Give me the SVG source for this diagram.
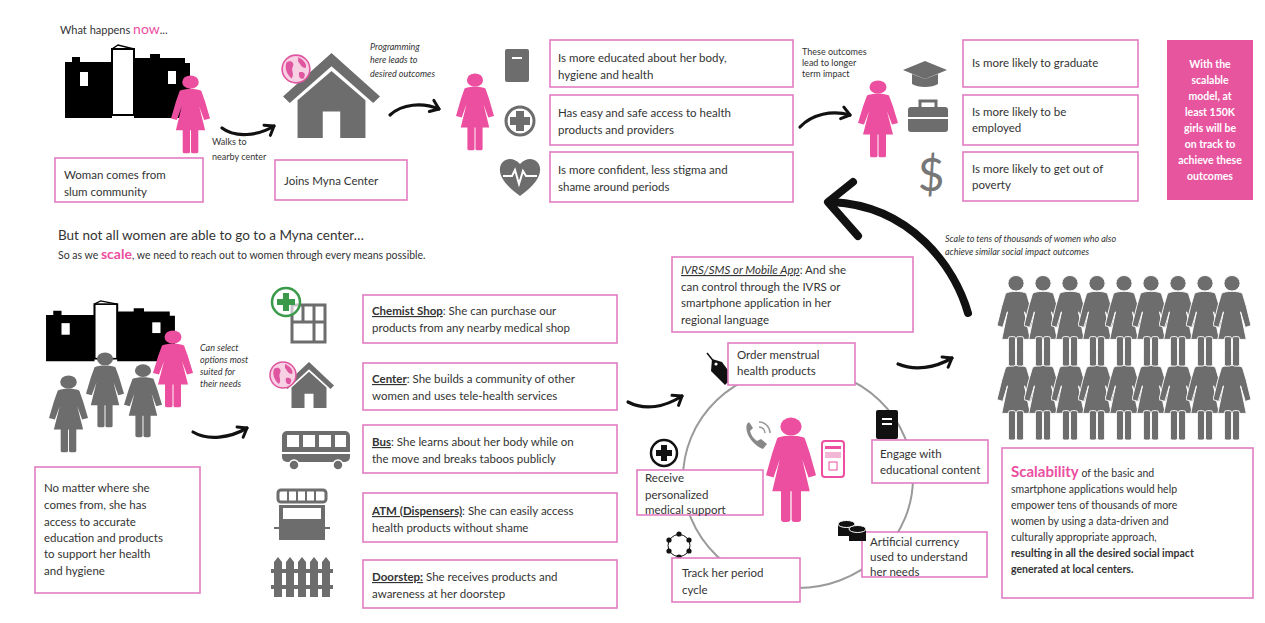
<svg xmlns="http://www.w3.org/2000/svg" width="1265" height="623" viewBox="0 0 1265 623">
<style>
text{font-family:Lato,"Liberation Sans",sans-serif;fill:#333}
.t{font-size:11.5px}
.s{font-size:9px}
.i{font-style:italic}
.box{fill:#fff;stroke:#e27cc2;stroke-width:1.6}
.pk{fill:#ec4f9f}
.gr{fill:#6d6d6d}
.arr{fill:none;stroke:#111;stroke-width:3.2;stroke-linecap:round;stroke-linejoin:round}
.u{text-decoration:underline;font-weight:bold}
.wt{fill:#fff;font-weight:bold;font-size:10.5px;text-anchor:middle}
</style>
<defs>
  <symbol id="woman" viewBox="0 0 40 100" preserveAspectRatio="none">
    <circle cx="20" cy="9" r="8.5"/>
    <path d="M9 20 C13 17 27 17 31 20 L35 34 L40 55 L34 57 L29 40 L35 70 L5 70 L11 40 L6 57 L0 55 L5 34 Z"/>
    <rect x="12" y="67" width="7.5" height="32" rx="2"/>
    <rect x="20.5" y="67" width="7.5" height="32" rx="2"/>
  </symbol>
  <symbol id="slum" viewBox="64 44 128 75" preserveAspectRatio="none">
    <path d="M65 62 H72 V57 H80 V62 H112 V118 H65 Z" fill="#000"/>
    <path d="M134 58 H150 V54 H160 V58 H185 V63 H190 V118 H134 Z" fill="#000"/>
    <rect x="112" y="49" width="22" height="66" fill="#fff" stroke="#000" stroke-width="2"/>
    <path d="M112 49 L118 45 L134 49" fill="none" stroke="#000" stroke-width="1.5"/>
    <rect x="80" y="72" width="8" height="14" fill="#fff"/>
    <rect x="168" y="71" width="8" height="13" fill="#fff"/>
  </symbol>
  <symbol id="house" viewBox="0 0 100 90" preserveAspectRatio="none">
    <polygon points="50,0 100,46 93,53 50,14 7,53 0,46"/>
    <path d="M15 50 L50 19 L85 50 V90 H59 V62 H41 V90 H15 Z"/>
  </symbol>
  <symbol id="globe" viewBox="0 0 30 30">
    <circle cx="15" cy="15" r="13" fill="#f7d0e4" stroke="#e0559f" stroke-width="1.5"/>
    <path d="M6 9 C10 6 14 9 12 13 C10 17 14 19 11 24 C7 21 4 15 6 9 Z" fill="#e0559f"/>
    <path d="M17 4 C22 6 26 11 24 14 C20 14 19 10 17 8 Z" fill="#e0559f"/>
    <path d="M18 18 C22 17 25 19 22 24 C19 25 17 22 18 18 Z" fill="#e0559f"/>
  </symbol>
  <marker id="hd" viewBox="-10 -8 12 16" markerWidth="12" markerHeight="16" refX="0" refY="0" orient="auto" markerUnits="userSpaceOnUse">
    <path d="M-8 -6 L0 0 L-8 6" fill="none" stroke="#111" stroke-width="3" stroke-linecap="round" stroke-linejoin="round"/>
  </marker>
</defs>

<rect width="1265" height="623" fill="#fff"/>

<!-- ===== current journey ===== -->
<g id="intro">
  <text x="60" y="34" style="font-size:11px">What happens <tspan style="fill:#ec4f9f;font-size:14px">now</tspan>...</text>
</g>

<g id="slum-woman">
  <use href="#slum" x="64" y="44" width="128" height="75"/>
  <use href="#woman" class="pk" x="171" y="75" width="39" height="79"/>
  <rect class="box" x="55" y="158" width="148" height="44"/>
  <text class="t" x="64" y="179">Woman comes from</text>
  <text class="t" x="64" y="196">slum community</text>
</g>

<g id="walk-label">
  <text class="s" x="212" y="145">Walks to</text>
  <text class="s" x="212" y="160">nearby center</text>
</g>

<g id="myna-center">
  <use href="#house" class="gr" x="283" y="53" width="97" height="85"/>
  <use href="#globe" x="280" y="53" width="32" height="32"/>
  <rect class="box" x="275" y="160" width="132" height="40"/>
  <text class="t" x="284" y="185">Joins Myna Center</text>
</g>

<g id="programming-label">
  <text class="s i" x="370" y="50">Programming</text>
  <text class="s i" x="370" y="63">here leads to</text>
  <text class="s i" x="370" y="77">desired outcomes</text>
</g>

<g id="woman-outcomes">
  <use href="#woman" class="pk" x="456" y="73" width="38" height="78"/>
  <!-- book -->
  <rect x="505" y="49" width="24" height="33" rx="2" fill="#6d6d6d"/>
  <rect x="512" y="57" width="10" height="2" fill="#fff"/>
  <!-- medical cross -->
  <circle cx="520" cy="121" r="14" fill="none" stroke="#6d6d6d" stroke-width="3"/>
  <rect x="516" y="111" width="8" height="20" fill="#6d6d6d"/>
  <rect x="510" y="117" width="20" height="8" fill="#6d6d6d"/>
  <!-- heart -->
  <path d="M520 196 C505 185 499 176 500 168 C501 159 512 155 520 164 C528 155 539 159 540 168 C541 176 535 185 520 196 Z" fill="#6d6d6d"/>
  <polyline points="503,176 512,176 515,170 519,184 523,171 526,176 537,176" fill="none" stroke="#fff" stroke-width="2"/>
</g>

<g id="outcome-educated">
  <rect class="box" x="550" y="40" width="243" height="47"/>
  <text class="t" x="558" y="62">Is more educated about her body,</text>
  <text class="t" x="558" y="79">hygiene and health</text>
</g>
<g id="outcome-access">
  <rect class="box" x="550" y="95" width="243" height="50"/>
  <text class="t" x="558" y="117">Has easy and safe access to health</text>
  <text class="t" x="558" y="134">products and providers</text>
</g>
<g id="outcome-confident">
  <rect class="box" x="550" y="152" width="243" height="50"/>
  <text class="t" x="558" y="174">Is more confident, less stigma and</text>
  <text class="t" x="558" y="191">shame around periods</text>
</g>

<g id="longer-term-label">
  <text class="s" x="802" y="55">These outcomes</text>
  <text class="s" x="802" y="66">lead to longer</text>
  <text class="s" x="802" y="77">term impact</text>
</g>

<g id="woman-impact">
  <use href="#woman" class="pk" x="858" y="80" width="40" height="78"/>
  <!-- graduation cap -->
  <polygon points="903,70 925,61 947,70 925,79" fill="#6d6d6d"/>
  <path d="M912 74 V84 C918 88 932 88 938 84 V74 L925 79 Z" fill="#6d6d6d"/>
  <!-- briefcase -->
  <path d="M920 107 V101 H936 V107" fill="none" stroke="#6d6d6d" stroke-width="3"/>
  <rect x="908" y="107" width="40" height="25" rx="3" fill="#6d6d6d"/>
  <rect x="908" y="117" width="40" height="2" fill="#fff"/>
  <!-- dollar -->
  <text x="931" y="191" style="font-size:46px;fill:#777;text-anchor:middle">$</text>
</g>

<g id="impact-graduate">
  <rect class="box" x="963" y="40" width="175" height="47"/>
  <text class="t" x="972" y="67">Is more likely to graduate</text>
</g>
<g id="impact-employed">
  <rect class="box" x="963" y="95" width="175" height="50"/>
  <text class="t" x="972" y="116">Is more likely to be</text>
  <text class="t" x="972" y="132">employed</text>
</g>
<g id="impact-poverty">
  <rect class="box" x="963" y="152" width="175" height="49"/>
  <text class="t" x="972" y="173">Is more likely to get out of</text>
  <text class="t" x="972" y="189">poverty</text>
</g>

<g id="scalable-model">
  <rect x="1167" y="40" width="86" height="160" fill="#e8559f"/>
  <text class="wt" x="1210" y="68">With the</text>
  <text class="wt" x="1210" y="84">scalable</text>
  <text class="wt" x="1210" y="100">model, at</text>
  <text class="wt" x="1210" y="116">least 150K</text>
  <text class="wt" x="1210" y="132">girls will be</text>
  <text class="wt" x="1210" y="148">on track to</text>
  <text class="wt" x="1210" y="164">achieve these</text>
  <text class="wt" x="1210" y="180">outcomes</text>
</g>

<!-- ===== scaling section ===== -->
<g id="scale-heading">
  <text x="58" y="240" style="font-size:13.5px">But not all women are able to go to a Myna center…</text>
  <text x="58" y="259" style="font-size:10.5px">So as we <tspan style="fill:#ec4f9f;font-size:14px;font-weight:bold">scale</tspan>, we need to reach out to women through every means possible.</text>
</g>

<g id="women-group">
  <use href="#slum" x="45" y="300" width="132" height="62"/>
  <use href="#woman" class="pk" x="153" y="330" width="40" height="78"/>
  <use href="#woman" class="gr" x="86" y="352" width="38" height="76"/>
  <use href="#woman" class="gr" x="124" y="364" width="38" height="74"/>
  <use href="#woman" class="gr" x="49" y="375" width="39" height="78"/>
</g>

<g id="select-label">
  <text class="s i" x="200" y="351">Can select</text>
  <text class="s i" x="200" y="363">options most</text>
  <text class="s i" x="200" y="375">suited for</text>
  <text class="s i" x="200" y="387">their needs</text>
</g>

<g id="no-matter">
  <rect class="box" x="35" y="467" width="165" height="126"/>
  <text class="t" x="44" y="492">No matter where she</text>
  <text class="t" x="44" y="509">comes from, she has</text>
  <text class="t" x="44" y="526">access to accurate</text>
  <text class="t" x="44" y="542">education and products</text>
  <text class="t" x="44" y="558">to support her health</text>
  <text class="t" x="44" y="575">and hygiene</text>
</g>

<g id="channel-icons">
  <!-- chemist -->
  <rect x="292" y="305" width="33" height="37" fill="none" stroke="#6d6d6d" stroke-width="3"/>
  <line x1="303" y1="305" x2="303" y2="322" stroke="#6d6d6d" stroke-width="3"/>
  <line x1="314" y1="305" x2="314" y2="342" stroke="#6d6d6d" stroke-width="3"/>
  <line x1="292" y1="322" x2="325" y2="322" stroke="#6d6d6d" stroke-width="3"/>
  <circle cx="286" cy="302" r="14" fill="#fff" fill-opacity="0.6" stroke="#3a9a4a" stroke-width="2.5"/>
  <rect x="283" y="293" width="6" height="18" fill="#3a9a4a"/>
  <rect x="277" y="299" width="18" height="6" fill="#3a9a4a"/>
  <!-- center -->
  <use href="#house" class="gr" x="284" y="362" width="50" height="46"/>
  <use href="#globe" x="268" y="360" width="30" height="30"/>
  <!-- bus -->
  <rect x="282" y="431" width="68" height="31" rx="5" fill="#6d6d6d"/>
  <rect x="287" y="435" width="12" height="12" fill="#fff"/>
  <rect x="303" y="435" width="12" height="12" fill="#fff"/>
  <rect x="319" y="435" width="12" height="12" fill="#fff"/>
  <rect x="335" y="435" width="11" height="12" fill="#fff"/>
  <rect x="282" y="452" width="68" height="2" fill="#fff"/>
  <circle cx="294" cy="465" r="5" fill="#6d6d6d" stroke="#fff" stroke-width="1.5"/>
  <circle cx="338" cy="465" r="5" fill="#6d6d6d" stroke="#fff" stroke-width="1.5"/>
  <!-- stall -->
  <rect x="278" y="490" width="48" height="12" rx="3" fill="none" stroke="#6d6d6d" stroke-width="3"/>
  <path d="M288 491 V501 M297 491 V501 M306 491 V501 M315 491 V501" stroke="#6d6d6d" stroke-width="2"/>
  <rect x="279" y="505" width="46" height="35" fill="#6d6d6d"/>
  <rect x="283" y="508" width="38" height="11" fill="#fff"/>
  <line x1="274" y1="528" x2="330" y2="528" stroke="#6d6d6d" stroke-width="2"/>
  <!-- fence -->
  <g fill="#6d6d6d">
    <path d="M274 562 L278 557 L282 562 V597 H274 Z"/>
    <path d="M286 562 L290 557 L294 562 V597 H286 Z"/>
    <path d="M298 562 L302 557 L306 562 V597 H298 Z"/>
    <path d="M310 562 L314 557 L318 562 V597 H310 Z"/>
    <path d="M322 562 L326 557 L330 562 V597 H322 Z"/>
    <rect x="271" y="569" width="62" height="4"/>
    <rect x="271" y="585" width="62" height="4"/>
  </g>
</g>

<g id="channel-chemist">
  <rect class="box" x="363" y="295" width="254" height="48"/>
  <text class="t" x="372" y="315"><tspan class="u">Chemist Shop</tspan>: She can purchase our</text>
  <text class="t" x="372" y="332">products from any nearby medical shop</text>
</g>
<g id="channel-center">
  <rect class="box" x="363" y="363" width="254" height="47"/>
  <text class="t" x="372" y="383"><tspan class="u">Center</tspan>: She builds a community of other</text>
  <text class="t" x="372" y="400">women and uses tele-health services</text>
</g>
<g id="channel-bus">
  <rect class="box" x="363" y="425" width="254" height="48"/>
  <text class="t" x="372" y="446"><tspan class="u">Bus</tspan>: She learns about her body while on</text>
  <text class="t" x="372" y="463">the move and breaks taboos publicly</text>
</g>
<g id="channel-atm">
  <rect class="box" x="363" y="493" width="254" height="49"/>
  <text class="t" x="372" y="515"><tspan class="u">ATM (Dispensers)</tspan>: She can easily access</text>
  <text class="t" x="372" y="532">health products without shame</text>
</g>
<g id="channel-doorstep">
  <rect class="box" x="363" y="560" width="254" height="48"/>
  <text class="t" x="372" y="581"><tspan class="u">Doorstep:</tspan> She receives products and</text>
  <text class="t" x="372" y="598">awareness at her doorstep</text>
</g>

<!-- ===== digital loop ===== -->
<g id="loop">
  <ellipse cx="798" cy="478" rx="115" ry="110" fill="none" stroke="#9a9a9a" stroke-width="2"/>
</g>

<g id="ivrs">
  <rect class="box" x="672" y="257" width="241" height="75"/>
  <text class="t" x="681" y="274"><tspan class="i" style="text-decoration:underline">IVRS/SMS or Mobile App</tspan>: And she</text>
  <text class="t" x="681" y="291">can control through the IVRS or</text>
  <text class="t" x="681" y="307">smartphone application in her</text>
  <text class="t" x="681" y="324">regional language</text>
</g>

<g id="order">
  <path d="M712 359 L722 362 L733 377 L725 385 L711 371 Z" fill="#111"/>
  <circle cx="716" cy="364" r="1.6" fill="#fff"/>
  <line x1="707" y1="353" x2="715" y2="363" stroke="#111" stroke-width="1.5"/>
  <rect class="box" x="728" y="343" width="127" height="42"/>
  <text class="t" x="737" y="359">Order menstrual</text>
  <text class="t" x="737" y="375">health products</text>
</g>

<g id="engage">
  <rect x="876" y="410" width="22" height="29" rx="2" fill="#111"/>
  <rect x="882" y="418" width="10" height="2" fill="#fff"/>
  <rect x="882" y="423" width="10" height="2" fill="#fff"/>
  <rect class="box" x="872" y="440" width="116" height="43"/>
  <text class="t" x="880" y="458">Engage with</text>
  <text class="t" x="880" y="474">educational content</text>
</g>

<g id="currency">
  <rect class="box" x="862" y="532" width="125" height="45"/>
  <rect x="838" y="524" width="17" height="12" fill="#111"/>
  <ellipse cx="846.5" cy="524" rx="8.5" ry="3.5" fill="#111" stroke="#fff" stroke-width="1"/>
  <rect x="849" y="529" width="17" height="12" fill="#111"/>
  <ellipse cx="857.5" cy="529" rx="8.5" ry="3.5" fill="#111" stroke="#fff" stroke-width="1"/>
  <text class="t" x="870" y="546">Artificial currency</text>
  <text class="t" x="870" y="561">used to understand</text>
  <text class="t" x="870" y="576">her needs</text>
</g>

<g id="track">
  <g fill="#111">
    <circle cx="679" cy="534" r="2.6"/>
    <circle cx="689" cy="540" r="2.6"/>
    <circle cx="689" cy="551" r="2.6"/>
    <circle cx="679" cy="557" r="2.6"/>
    <circle cx="669" cy="551" r="2.6"/>
    <circle cx="669" cy="540" r="2.6"/>
  </g>
  <circle cx="679" cy="545.5" r="11" fill="none" stroke="#111" stroke-width="1"/>
  <rect class="box" x="672" y="558" width="128" height="44"/>
  <text class="t" x="682" y="577">Track her period</text>
  <text class="t" x="682" y="594">cycle</text>
</g>

<g id="receive">
  <circle cx="664" cy="453" r="13" fill="#fff" stroke="#111" stroke-width="2.5"/>
  <rect x="661" y="445" width="6" height="16" fill="#111"/>
  <rect x="656" y="450" width="16" height="6" fill="#111"/>
  <rect class="box" x="637" y="470" width="126" height="45"/>
  <text class="t" x="645" y="482">Receive</text>
  <text class="t" x="645" y="499">personalized</text>
  <text class="t" x="645" y="514">medical support</text>
</g>

<g id="woman-digital">
  <path d="M747 424 C744 432 752 445 763 449 L767 444 L761 439 L757 441 C753 438 751 435 750 431 L753 428 L749 422 Z" fill="#888"/>
  <path d="M759 427 A6 6 0 0 1 765 433 M759 422 A11 11 0 0 1 770 433" fill="none" stroke="#999" stroke-width="1.5"/>
  <use href="#woman" class="pk" x="766" y="417" width="50" height="106"/>
  <rect x="822" y="441" width="22" height="36" rx="3" fill="#fff" stroke="#ec4f9f" stroke-width="2"/>
  <rect x="825" y="446" width="16" height="3" fill="#ec4f9f"/>
  <rect x="825" y="452" width="16" height="6" fill="#f4b6d6"/>
  <rect x="829" y="462" width="8" height="8" fill="none" stroke="#ec4f9f" stroke-width="1"/>
</g>

<!-- ===== scaled outcome ===== -->
<g id="scale-label">
  <text class="s i" x="945" y="242">Scale to tens of thousands of women who also</text>
  <text class="s i" x="945" y="255">achieve similar social impact outcomes</text>
</g>

<g id="women-crowd" class="gr" stroke="#fff" stroke-width="1">
  <use href="#woman" x="997" y="349" width="38" height="92"/>
  <use href="#woman" x="1024" y="349" width="38" height="92"/>
  <use href="#woman" x="1051" y="349" width="38" height="92"/>
  <use href="#woman" x="1078" y="349" width="38" height="92"/>
  <use href="#woman" x="1105" y="349" width="38" height="92"/>
  <use href="#woman" x="1132" y="349" width="38" height="92"/>
  <use href="#woman" x="1159" y="349" width="38" height="92"/>
  <use href="#woman" x="1186" y="349" width="38" height="92"/>
  <use href="#woman" x="1213" y="349" width="38" height="92"/>
  <use href="#woman" x="997" y="275" width="38" height="92"/>
  <use href="#woman" x="1024" y="275" width="38" height="92"/>
  <use href="#woman" x="1051" y="275" width="38" height="92"/>
  <use href="#woman" x="1078" y="275" width="38" height="92"/>
  <use href="#woman" x="1105" y="275" width="38" height="92"/>
  <use href="#woman" x="1132" y="275" width="38" height="92"/>
  <use href="#woman" x="1159" y="275" width="38" height="92"/>
  <use href="#woman" x="1186" y="275" width="38" height="92"/>
  <use href="#woman" x="1213" y="275" width="38" height="92"/>
</g>

<g id="scalability">
  <rect class="box" x="1002" y="448" width="251" height="150"/>
  <text x="1011" y="477" style="font-size:10.5px"><tspan style="fill:#ec4f9f;font-size:15px;font-weight:bold">Scalability</tspan> of the basic and</text>
  <text x="1011" y="493" style="font-size:10.5px">smartphone applications would help</text>
  <text x="1011" y="509" style="font-size:10.5px">empower tens of thousands of more</text>
  <text x="1011" y="525" style="font-size:10.5px">women by using a data-driven and</text>
  <text x="1011" y="541" style="font-size:10.5px">culturally appropriate approach,</text>
  <text x="1011" y="557" style="font-size:10.5px;font-weight:bold">resulting in all the desired social impact</text>
  <text x="1011" y="573" style="font-size:10.5px;font-weight:bold">generated at local centers.</text>
</g>

<!-- ===== connectors ===== -->
<g id="connectors">
  <path class="arr" d="M222 128 C235 138 258 136 274 126" marker-end="url(#hd)"/>
  <path class="arr" d="M390 115 C402 104 422 102 439 109" marker-end="url(#hd)"/>
  <path class="arr" d="M800 127 C812 114 832 110 850 115" marker-end="url(#hd)"/>
  <path class="arr" d="M193 432 C208 441 230 438 247 428" marker-end="url(#hd)"/>
  <path class="arr" d="M628 402 C645 411 665 407 682 396" marker-end="url(#hd)"/>
  <path class="arr" d="M898 364 C915 371 935 368 952 358" marker-end="url(#hd)"/>
  <path d="M968 313 C955 268 912 206 832 202" fill="none" stroke="#111" stroke-width="8" stroke-linecap="round"/>
  <polyline points="853,182 828,202 858,236" fill="none" stroke="#111" stroke-width="8" stroke-linecap="round" stroke-linejoin="round"/>
</g>
</svg>
